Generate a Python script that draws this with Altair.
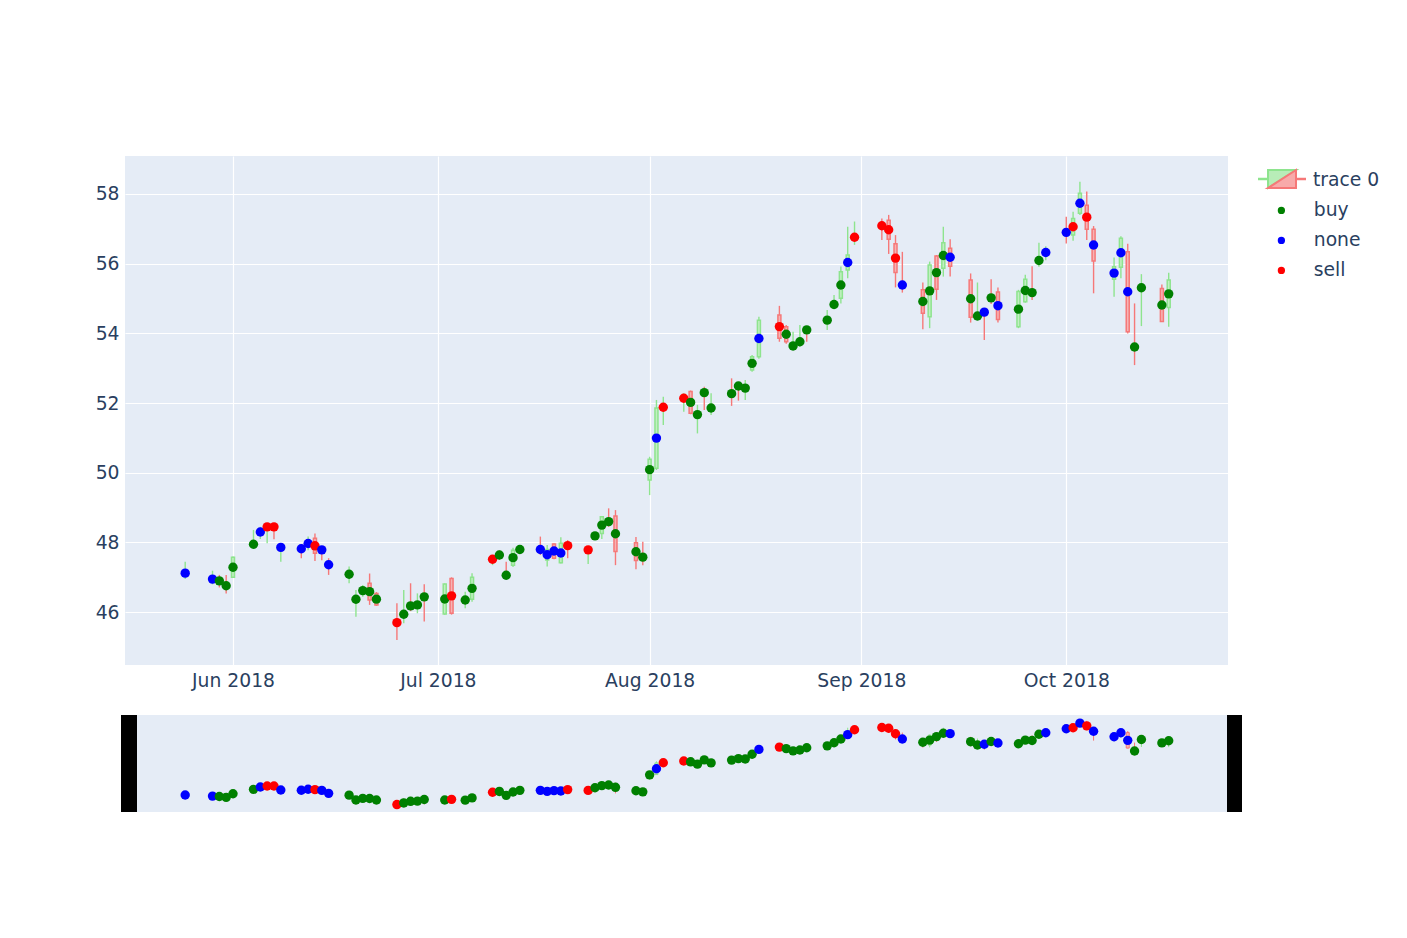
import altair as alt
import pandas as pd

# ---------------- data ----------------
dates = [
    "2018-05-25", "2018-05-29", "2018-05-30", "2018-05-31", "2018-06-01",
    "2018-06-04", "2018-06-05", "2018-06-06", "2018-06-07", "2018-06-08",
    "2018-06-11", "2018-06-12", "2018-06-13", "2018-06-14", "2018-06-15",
    "2018-06-18", "2018-06-19", "2018-06-20", "2018-06-21", "2018-06-22",
    "2018-06-25", "2018-06-26", "2018-06-27", "2018-06-28", "2018-06-29",
    "2018-07-02", "2018-07-03", "2018-07-05", "2018-07-06",
    "2018-07-09", "2018-07-10", "2018-07-11", "2018-07-12", "2018-07-13",
    "2018-07-16", "2018-07-17", "2018-07-18", "2018-07-19", "2018-07-20",
    "2018-07-23", "2018-07-24", "2018-07-25", "2018-07-26", "2018-07-27",
    "2018-07-30", "2018-07-31", "2018-08-01", "2018-08-02", "2018-08-03",
    "2018-08-06", "2018-08-07", "2018-08-08", "2018-08-09", "2018-08-10",
    "2018-08-13", "2018-08-14", "2018-08-15", "2018-08-16", "2018-08-17",
    "2018-08-20", "2018-08-21", "2018-08-22", "2018-08-23", "2018-08-24",
    "2018-08-27", "2018-08-28", "2018-08-29", "2018-08-30", "2018-08-31",
    "2018-09-04", "2018-09-05", "2018-09-06", "2018-09-07",
    "2018-09-10", "2018-09-11", "2018-09-12", "2018-09-13", "2018-09-14",
    "2018-09-17", "2018-09-18", "2018-09-19", "2018-09-20", "2018-09-21",
    "2018-09-24", "2018-09-25", "2018-09-26", "2018-09-27", "2018-09-28",
    "2018-10-01", "2018-10-02", "2018-10-03", "2018-10-04", "2018-10-05",
    "2018-10-08", "2018-10-09", "2018-10-10", "2018-10-11", "2018-10-12",
    "2018-10-15", "2018-10-16",
]

opens = [
    47.08, 46.91, 46.95, 46.82, 47.00,
    47.90, 48.25, 48.40, 48.50, 47.82,
    47.87, 47.92, 48.12, 47.84, 47.42,
    47.04, 46.32, 46.57, 46.83, 46.54,
    45.75, 45.89, 46.23, 46.16, 46.49,
    45.95, 46.97, 46.30, 46.37,
    47.47, 47.69, 47.11, 47.35, 47.75,
    47.85, 47.50, 47.96, 47.42, 47.96,
    47.74, 48.14, 48.26, 48.65, 48.76,
    47.99, 47.63, 49.79, 50.13, 51.83,
    52.09, 52.33, 51.62, 52.35, 51.81,
    52.32, 52.54, 52.38, 52.95, 53.33,
    54.53, 54.19, 53.59, 53.71, 54.15,
    54.33, 54.78, 55.01, 55.82, 56.71,
    57.14, 57.25, 56.57, 55.44,
    55.25, 54.48, 56.22, 55.87, 56.44,
    55.53, 54.45, 54.66, 55.07, 55.19,
    54.19, 54.91, 55.22, 56.04, 56.27,
    56.95, 56.82, 57.45, 57.68, 56.99,
    55.55, 55.90, 56.34, 53.66, 55.26,
    55.29, 54.74,
]

closes = [
    47.16, 46.99, 46.85, 46.70, 47.58,
    48.00, 48.35, 48.50, 48.40, 47.90,
    47.77, 48.02, 47.69, 47.74, 47.30,
    47.14, 46.42, 46.67, 46.35, 46.21,
    45.65, 45.99, 46.13, 46.26, 46.39,
    46.81, 45.97, 46.40, 47.00,
    47.57, 47.59, 47.01, 47.78, 47.85,
    47.75, 47.80, 47.55, 47.98, 47.86,
    47.84, 48.24, 48.74, 48.55, 47.74,
    47.48, 47.53, 50.39, 51.86, 51.93,
    52.19, 51.71, 51.72, 52.25, 51.91,
    52.22, 52.44, 52.48, 53.33, 54.38,
    53.86, 53.76, 53.69, 53.81, 54.05,
    54.43, 54.88, 55.77, 56.25, 56.81,
    57.04, 56.70, 55.75, 55.34,
    54.58, 55.96, 55.27, 56.60, 55.93,
    54.46, 54.55, 54.56, 54.97, 54.40,
    55.20, 55.55, 55.12, 56.14, 56.37,
    56.85, 57.30, 58.02, 56.99, 56.08,
    55.91, 56.73, 54.05, 53.56, 55.36,
    54.34, 55.53,
]

highs = [
    47.45, 47.19, 47.07, 47.07, 47.60,
    48.36, 48.45, 48.55, 48.55, 47.95,
    47.95, 48.17, 48.26, 47.90, 47.55,
    47.31, 46.64, 46.78, 47.11, 46.58,
    46.26, 46.64, 46.83, 46.54, 46.80,
    46.82, 47.00, 46.59, 47.12,
    47.64, 47.78, 47.45, 47.85, 47.90,
    48.17, 47.93, 47.98, 48.15, 48.07,
    47.88, 48.30, 48.76, 48.98, 48.93,
    48.16, 48.02, 50.46, 52.09, 52.18,
    52.28, 52.36, 51.95, 52.47, 52.28,
    52.71, 52.57, 52.66, 53.38, 54.48,
    54.79, 54.24, 54.05, 54.24, 54.19,
    54.67, 55.10, 55.92, 57.06, 57.21,
    57.30, 57.40, 56.82, 56.34,
    55.46, 56.06, 56.25, 57.06, 56.70,
    55.72, 55.46, 54.72, 55.55, 55.32,
    55.25, 55.68, 55.93, 56.60, 56.50,
    57.35, 57.49, 58.35, 58.07, 57.08,
    56.18, 56.79, 56.57, 54.86, 55.70,
    55.40, 55.74,
]

lows = [
    46.95, 46.80, 46.71, 46.54, 46.98,
    47.88, 48.10, 47.98, 48.09, 47.45,
    47.55, 47.78, 47.47, 47.49, 47.07,
    46.83, 45.87, 46.44, 46.21, 46.18,
    45.20, 45.68, 46.03, 45.97, 45.73,
    45.93, 45.93, 46.11, 46.30,
    47.35, 47.50, 46.97, 47.30, 47.72,
    47.64, 47.31, 47.52, 47.40, 47.55,
    47.38, 48.10, 48.10, 48.45, 47.35,
    47.23, 47.35, 49.36, 50.08, 51.37,
    51.75, 51.68, 51.13, 51.80, 51.66,
    51.92, 52.07, 52.09, 52.90, 53.27,
    53.76, 53.70, 53.52, 53.62, 53.76,
    54.10, 54.77, 54.86, 55.58, 56.54,
    56.68, 56.28, 55.32, 55.17,
    54.12, 54.15, 54.96, 55.63, 55.63,
    54.31, 54.38, 53.81, 54.84, 54.31,
    54.15, 54.88, 54.96, 55.91, 56.10,
    56.58, 56.66, 57.40, 56.68, 55.15,
    55.05, 55.58, 54.00, 53.09, 54.21,
    54.33, 54.19,
]

signals = [
    "none", "none", "buy", "buy", "buy",
    "buy", "none", "sell", "sell", "none",
    "none", "none", "sell", "none", "none",
    "buy", "buy", "buy", "buy", "buy",
    "sell", "buy", "buy", "buy", "buy",
    "buy", "sell", "buy", "buy",
    "sell", "buy", "buy", "buy", "buy",
    "none", "none", "none", "none", "sell",
    "sell", "buy", "buy", "buy", "buy",
    "buy", "buy", "buy", "none", "sell",
    "sell", "buy", "buy", "buy", "buy",
    "buy", "buy", "buy", "buy", "none",
    "sell", "buy", "buy", "buy", "buy",
    "buy", "buy", "buy", "none", "sell",
    "sell", "sell", "sell", "none",
    "buy", "buy", "buy", "buy", "none",
    "buy", "buy", "none", "buy", "none",
    "buy", "buy", "buy", "buy", "none",
    "none", "sell", "none", "sell", "none",
    "none", "none", "none", "buy", "buy",
    "buy", "buy",
]

signal_names = ["buy", "none", "sell"]
signal_colors = ["#008000", "#0000ff", "#ff0000"]
month_ticks = [6, 7, 8, 9, 10]
price_ticks = [46, 48, 50, 52, 54, 56, 58]

df = pd.DataFrame({
    "date": dates, "open": opens, "high": highs,
    "low": lows, "close": closes, "signal": signals,
})

# ---------------- styling ----------------
FONT = "DejaVu Sans"
TXT = "#2a3f5f"
BG = "#E5ECF6"
FS = 18.76
MAIN_W, MAIN_H = 1103, 509
SL_H = 97

x_dom = [
    alt.DateTime(year=2018, month=5, date=16, hours=4, minutes=30, utc=True),
    alt.DateTime(year=2018, month=10, date=24, hours=16, minutes=20, utc=True),
]
stroke_scale = alt.Scale(domain=["up", "down"], range=["#8ee48e", "#f67878"])
fill_scale = alt.Scale(domain=["up", "down"], range=["#c2efc2", "#f6b3b5"])
sig_scale = alt.Scale(domain=signal_names, range=signal_colors)

base = alt.Chart(df).transform_calculate(
    mid="(datum.open + datum.close) / 2",
    dir="datum.close >= datum.open ? 'up' : 'down'",
)


def xenc(show_axis):
    if show_axis:
        ax = alt.Axis(
            values=[alt.DateTime(year=2018, month=m, date=1, utc=True) for m in month_ticks],
            labelExpr="utcFormat(datum.value, '%b %Y')",
            title=None, labelPadding=6, labelFlush=False,
        )
    else:
        ax = None
    return alt.X("date:T", scale=alt.Scale(type="utc", domain=x_dom, padding=0, nice=False), axis=ax)


def yenc(field, dom, show_axis):
    ax = alt.Axis(values=price_ticks, title=None, labelPadding=6) if show_axis else None
    return alt.Y(f"{field}:Q", scale=alt.Scale(domain=dom, nice=False, zero=False), axis=ax)


def candle_layers(dom, show_axis, wick_w, body_w, body_sw):
    wick = base.mark_rule(strokeWidth=wick_w).encode(
        x=xenc(show_axis),
        y=yenc("low", dom, show_axis),
        y2="high:Q",
        stroke=alt.Stroke("dir:N", scale=stroke_scale, legend=None),
    )
    body = base.mark_bar(size=body_w, strokeWidth=body_sw).encode(
        x=xenc(show_axis),
        y=yenc("open", dom, show_axis),
        y2="close:Q",
        fill=alt.Fill("dir:N", scale=fill_scale, legend=None),
        stroke=alt.Stroke("dir:N", scale=stroke_scale, legend=None),
    )
    return wick, body


def point_layer(dom, show_axis, legend):
    return base.mark_circle(size=88, opacity=1).encode(
        x=xenc(show_axis),
        y=yenc("mid", dom, show_axis),
        color=alt.Color("signal:N", scale=sig_scale, legend=legend),
    )


leg = alt.Legend(
    title=None, orient="none", legendX=1147, legendY=45,
    labelFont=FONT, labelFontSize=FS, labelColor=TXT,
    symbolType="circle", symbolSize=53, symbolStrokeWidth=0,
    labelOffset=23, rowPadding=10, padding=0,
)

main_dom = [44.485, 59.09]
w1, b1 = candle_layers(main_dom, True, 1.4, 3, 1.5)
p1 = point_layer(main_dom, True, leg)

# "trace 0" legend entry for the candlestick trace
one = alt.Chart(pd.DataFrame({"name": ["trace 0"]}))
leg_wick_up = one.mark_rule(color="#8ee48e", strokeWidth=2.5).encode(
    x=alt.value(1133), x2=alt.value(1144), y=alt.value(23))
leg_wick_dn = one.mark_rule(color="#f67878", strokeWidth=2.5).encode(
    x=alt.value(1170), x2=alt.value(1181), y=alt.value(23))
leg_up = one.mark_point(
    shape="M -1 -0.643 L 1 -0.643 L -1 0.643 Z", size=784, filled=True,
    fill="#b8edb8", stroke="#8ee48e", strokeWidth=2, opacity=1,
).encode(x=alt.value(1157), y=alt.value(23))
leg_dn = one.mark_point(
    shape="M 1 -0.643 L 1 0.643 L -1 0.643 Z", size=784, filled=True,
    fill="#f8aaaa", stroke="#f67878", strokeWidth=2, opacity=1,
).encode(x=alt.value(1157), y=alt.value(23))
leg_txt = one.mark_text(
    align="left", baseline="middle", font=FONT, fontSize=FS, color=TXT,
).encode(x=alt.value(1188), y=alt.value(24), text="name:N")

main = alt.layer(
    w1, b1, p1, leg_wick_up, leg_wick_dn, leg_up, leg_dn, leg_txt
).properties(width=MAIN_W, height=MAIN_H)

# ---------------- range slider ----------------
sl_dom = [44.6, 58.94]
w2, b2 = candle_layers(sl_dom, False, 1.0, 3, 1.0)
p2 = point_layer(sl_dom, False, None)
handle_l = one.mark_rect(color="black").encode(
    x=alt.value(-4), x2=alt.value(12), y=alt.value(0), y2=alt.value(SL_H))
handle_r = one.mark_rect(color="black").encode(
    x=alt.value(MAIN_W - 1), x2=alt.value(MAIN_W + 14), y=alt.value(0), y2=alt.value(SL_H))

slider = alt.layer(w2, b2, p2, handle_l, handle_r).properties(width=MAIN_W, height=SL_H)

chart = (
    alt.vconcat(main, slider, spacing=25)
    .resolve_scale(color="independent", fill="independent", stroke="independent")
    .properties(padding={"left": 87, "top": 148, "right": 10, "bottom": 10}, background="white")
    .configure_view(stroke=None, fill=BG)
    .configure_axis(
        labelFont=FONT, labelFontSize=FS, labelColor=TXT,
        grid=True, gridColor="white", gridWidth=1.2,
        domain=False, ticks=False,
    )
)

chart.save("out.html", embed_options={"renderer": "svg", "actions": False})
